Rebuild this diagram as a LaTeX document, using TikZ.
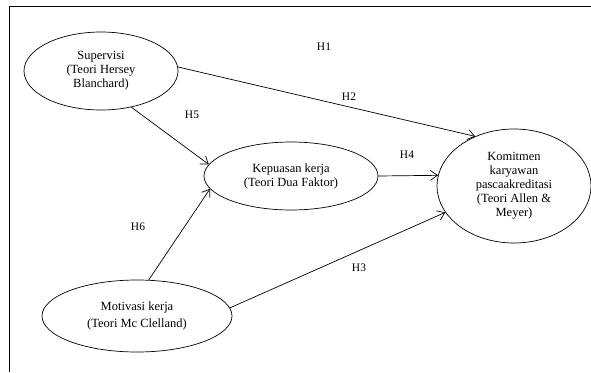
\documentclass[tikz,border=0pt]{standalone}
\usepackage{fontspec}
\setmainfont{Liberation Serif}
\usetikzlibrary{shapes.geometric,arrows.meta}
\begin{document}
\begin{tikzpicture}[x=1pt,y=-1pt,
  construct/.style={draw, line width=0.7pt, ellipse, inner sep=0pt, align=center,
    font=\fontsize{12.5}{14}\selectfont},
  link/.style={line width=0.7pt, -{Straight Barb[length=7pt,width=10pt,line width=0.7pt]}},
  hyp/.style={font=\fontsize{11.5}{14}\selectfont, inner sep=0pt}]
\useasboundingbox (0,0) rectangle (591,372);
\draw[line width=0.7pt] (9,372) -- (9,6) -- (591,6);
\node[construct, minimum width=154pt, minimum height=78pt] (sup) at (101,71)
  {Supervisi\\(Teori Hersey\\Blanchard)};
\node[construct, minimum width=174pt, minimum height=68pt] (kep) at (291,176)
  {Kepuasan kerja\\(Teori Dua Faktor)};
\node[construct, minimum width=154pt, minimum height=114pt] (kom) at (514,186)
  {Komitmen\\karyawan\\pascaakreditasi\\(Teori Allen \&\\Meyer)};
\node[construct, minimum width=190pt, minimum height=72pt,
  font=\fontsize{12.5}{17}\selectfont] (mot) at (137,316)
  {Motivasi kerja\\(Teori Mc Clelland)};
\draw[link] (sup.3) -- (kom.128);
\draw[link] (sup.-50) -- (kep.172);
\draw[link] (kep.east) -- (kom.172);
\draw[link] (mot.72) -- (kep.-171);
\draw[link] (mot.5) -- (kom.201);
\node[hyp] (h1) at (324,47) {H1};
\node[hyp] (h2) at (349,97) {H2};
\node[hyp] (h5) at (192,115) {H5};
\node[hyp] (h4) at (407,155) {H4};
\node[hyp] (h6) at (138,227) {H6};
\node[hyp] (h3) at (359,268) {H3};
\end{tikzpicture}
\end{document}
